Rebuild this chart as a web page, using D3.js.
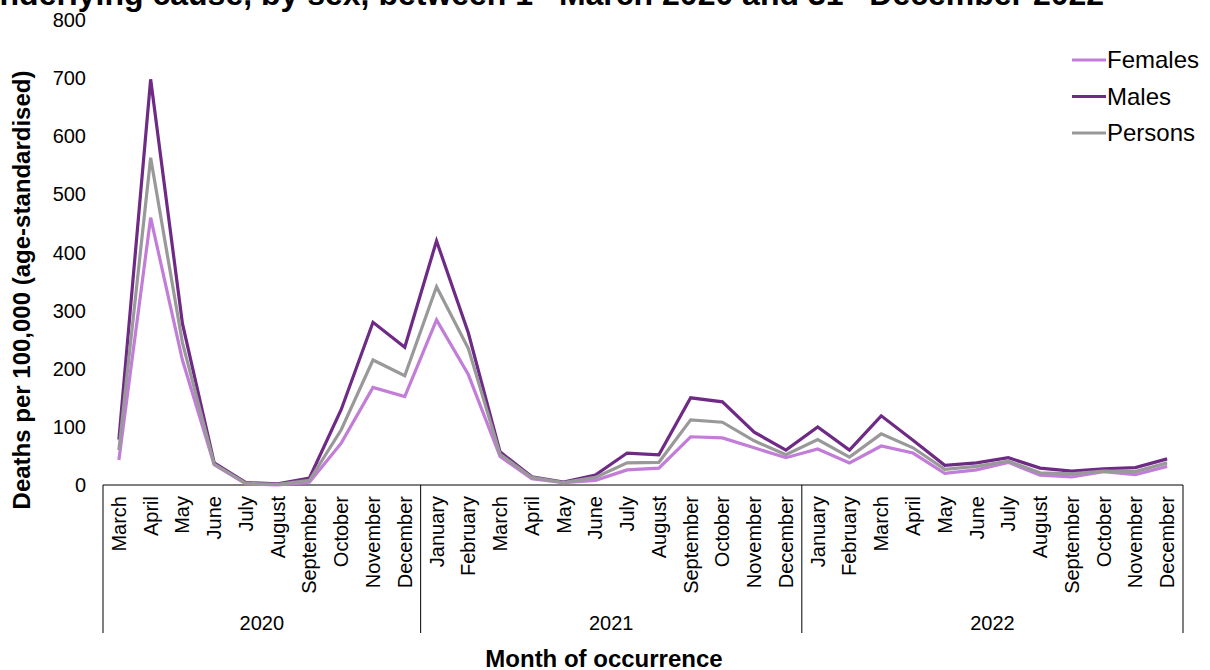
<!DOCTYPE html>
<html>
<head>
<meta charset="utf-8">
<script src="https://cdn.jsdelivr.net/npm/d3@7"></script>
<style>
  body { margin: 0; background: #fff; }
  svg { font-family: "Liberation Sans", Arial, sans-serif; }
</style>
</head>
<body>
<div id="chart"></div>
<script>
// months Mar 2020 .. Dec 2022
const years = ["2020", "2021", "2022"];
const monthNames = ["January", "February", "March", "April", "May", "June", "July",
  "August", "September", "October", "November", "December"];
const yearMonths = [monthNames.slice(2), monthNames, monthNames];

const females = [43, 460, 215, 35, 2, 0, 5, 72, 168, 152,
  284, 190, 49, 11, 4, 8, 26, 29, 83, 81, 64, 47,
  62, 38, 67, 55, 20, 26, 39, 17, 14, 23, 18, 32];
const males = [78, 698, 278, 38, 4, 2, 12, 130, 280, 237,
  420, 262, 57, 14, 5, 17, 55, 52, 150, 143, 91, 60,
  100, 60, 119, 77, 34, 38, 47, 29, 24, 28, 30, 45];
const persons = [60, 563, 245, 36, 3, 1, 8, 95, 215, 188,
  341, 235, 53, 13, 4, 13, 38, 39, 112, 108, 76, 52,
  78, 48, 88, 64, 27, 32, 41, 21, 19, 24, 23, 38];
const yTicks = [0, 100, 200, 300, 400, 500, 600, 700, 800];

const series = [
  { name: "Females", values: females, color: "#c27dd8" },
  { name: "Males", values: males, color: "#6e2a85" },
  { name: "Persons", values: persons, color: "#999999" }
];

// flatten categories
const cats = [];
yearMonths.forEach((ms, yi) => ms.forEach(m => cats.push({ key: years[yi] + "-" + m, month: m, year: years[yi] })));

const width = 1210, height = 670;
const margin = { left: 103, right: 27, top: 20, bottom: 185 };

const svg = d3.select("#chart").append("svg")
  .attr("width", width)
  .attr("height", height);

const x = d3.scaleBand()
  .domain(cats.map(d => d.key))
  .range([margin.left, width - margin.right]);

const y = d3.scaleLinear()
  .domain([0, 800])
  .range([height - margin.bottom, margin.top]);

// title (clipped at top like the source)
const title = svg.append("text")
  .attr("x", -20)
  .attr("y", 5)
  .attr("font-size", 32)
  .attr("font-weight", "bold")
  .attr("fill", "#000");
title.append("tspan").text("underlying cause, by sex, between 1");
title.append("tspan").attr("font-size", 19).attr("dy", -10).text("st");
title.append("tspan").attr("dy", 10).text(" March 2020 and 31");
title.append("tspan").attr("font-size", 19).attr("dy", -10).text("st");
title.append("tspan").attr("dy", 10).text(" December 2022");

// y axis labels
svg.append("g")
  .selectAll("text")
  .data(yTicks)
  .join("text")
  .attr("x", 86)
  .attr("y", d => y(d))
  .attr("dy", "0.35em")
  .attr("text-anchor", "end")
  .attr("font-size", 20)
  .text(d => d);

svg.append("text")
  .attr("transform", "translate(22,290) rotate(-90)")
  .attr("text-anchor", "middle")
  .attr("dy", "0.35em")
  .attr("font-size", 24)
  .attr("font-weight", "bold")
  .text("Deaths per 100,000 (age-standardised)");

// x axis line and group separators
const y0 = y(0);
svg.append("line")
  .attr("x1", margin.left).attr("x2", width - margin.right)
  .attr("y1", y0).attr("y2", y0)
  .attr("stroke", "#000").attr("stroke-width", 1);

let idx = 0;
const bounds = [0];
yearMonths.forEach(ms => { idx += ms.length; bounds.push(idx); });
svg.append("g")
  .selectAll("line")
  .data(bounds)
  .join("line")
  .attr("x1", d => d < cats.length ? x(cats[d].key) : x.range()[1])
  .attr("x2", d => d < cats.length ? x(cats[d].key) : x.range()[1])
  .attr("y1", y0)
  .attr("y2", 633)
  .attr("stroke", "#000")
  .attr("stroke-width", 1);

// month labels
svg.append("g")
  .selectAll("text")
  .data(cats)
  .join("text")
  .attr("transform", d => `translate(${x(d.key) + x.bandwidth() / 2},${y0 + 11}) rotate(-90)`)
  .attr("text-anchor", "end")
  .attr("dy", "0.35em")
  .attr("font-size", 20)
  .text(d => d.month);

// year labels
svg.append("g")
  .selectAll("text")
  .data(years)
  .join("text")
  .attr("x", (d, i) => {
    const a = x(cats[bounds[i]].key);
    const b = bounds[i + 1] < cats.length ? x(cats[bounds[i + 1]].key) : x.range()[1];
    return (a + b) / 2;
  })
  .attr("y", 630)
  .attr("text-anchor", "middle")
  .attr("font-size", 20)
  .text(d => d);

svg.append("text")
  .attr("x", 604)
  .attr("y", 667)
  .attr("text-anchor", "middle")
  .attr("font-size", 24)
  .attr("font-weight", "bold")
  .text("Month of occurrence");

// lines
const line = d3.line()
  .x((d, i) => x(cats[i].key) + x.bandwidth() / 2)
  .y(d => y(d));

svg.append("g")
  .selectAll("path")
  .data(series)
  .join("path")
  .attr("d", d => line(d.values))
  .attr("fill", "none")
  .attr("stroke", d => d.color)
  .attr("stroke-width", 3.2)
  .attr("stroke-linejoin", "miter");

// legend
const legend = svg.append("g")
  .selectAll("g")
  .data(series)
  .join("g")
  .attr("transform", (d, i) => `translate(1072,${60 + i * 36.5})`);
legend.append("line")
  .attr("x1", 0).attr("x2", 34)
  .attr("stroke", d => d.color)
  .attr("stroke-width", 3.2);
legend.append("text")
  .attr("x", 35)
  .attr("dy", "0.35em")
  .attr("font-size", 24)
  .text(d => d.name);
</script>
</body>
</html>
